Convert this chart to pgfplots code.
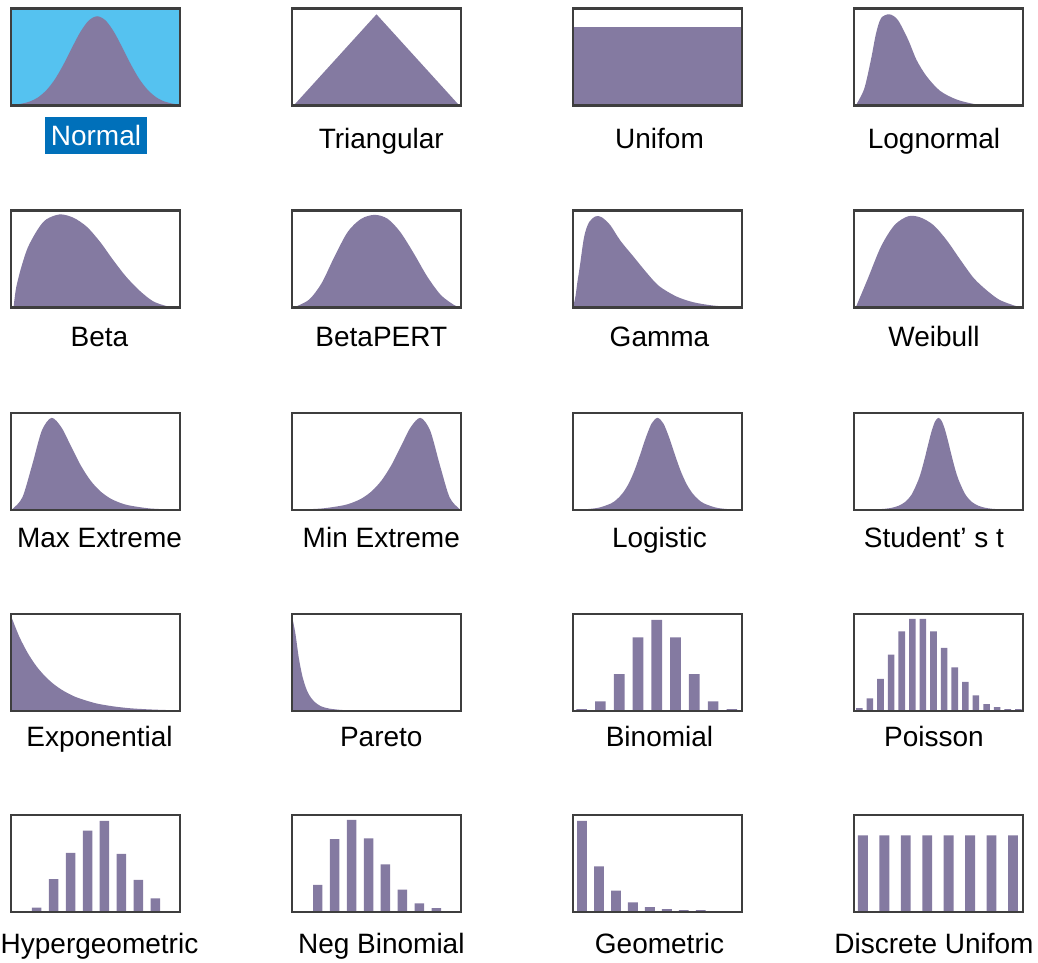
\documentclass[border=0pt]{standalone}
\usepackage{pgfplots}
\pgfplotsset{compat=1.18}
\usepackage{fontspec}
\setmainfont{Liberation Sans}
\definecolor{pur}{RGB}{132,122,161}
\definecolor{framecol}{RGB}{62,62,62}
\definecolor{normbg}{RGB}{85,194,240}
\definecolor{hl}{RGB}{0,112,186}
\pgfplotsset{
  panel/.style={scale only axis, width=169pt, height=97pt,
    xmin=0, xmax=1, ymin=0, ymax=1, ticks=none, axis on top,
    axis line style={draw=framecol, line width=2.4pt}, anchor=south west},
  curve/.style={fill=pur, draw=none, smooth},
  bars/.style={ybar, bar shift=0pt, fill=pur, draw=none},
}
\newcommand{\lab}{\fontsize{28}{33}\selectfont}
\begin{document}
\begin{tikzpicture}
\useasboundingbox (0pt,0pt) rectangle (1038pt,963pt);
% ---------- Row 1
\begin{axis}[panel, at={(11pt,857.5pt)}, axis background/.style={fill=normbg}]
\addplot[curve] coordinates {(0.0,0.005)(0.01,0.007)(0.06,0.018)(0.11,0.040)(0.16,0.084)(0.21,0.159)(0.26,0.271)(0.31,0.421)(0.36,0.593)(0.41,0.757)(0.46,0.876)(0.51,0.92)(0.56,0.876)(0.61,0.757)(0.66,0.593)(0.71,0.421)(0.76,0.271)(0.81,0.159)(0.86,0.084)(0.91,0.040)(0.96,0.018)(1.0,0.008)} \closedcycle;
\end{axis}
\begin{axis}[panel, at={(292pt,857.5pt)}]
\addplot[fill=pur, draw=none] coordinates {(0.01,0)(0.5,0.94)(0.99,0)} \closedcycle;
\end{axis}
\begin{axis}[panel, at={(573pt,857.5pt)}]
\addplot[fill=pur, draw=none] coordinates {(0,0.81)(1,0.81)} \closedcycle;
\end{axis}
\begin{axis}[panel, at={(854pt,857.5pt)}]
\addplot[curve] coordinates {(0.01,0)(0.06,0.17)(0.10,0.47)(0.13,0.74)(0.16,0.90)(0.21,0.94)(0.26,0.88)(0.32,0.68)(0.37,0.47)(0.43,0.30)(0.51,0.15)(0.61,0.06)(0.73,0.01)(0.85,0)} \closedcycle;
\end{axis}
% ---------- Row 2
\begin{axis}[panel, at={(11pt,655.5pt)}]
\addplot[curve] coordinates {(0.015,0)(0.03,0.2)(0.06,0.41)(0.10,0.62)(0.16,0.81)(0.21,0.91)(0.29,0.96)(0.37,0.925)(0.45,0.83)(0.53,0.67)(0.60,0.50)(0.68,0.32)(0.76,0.175)(0.84,0.065)(0.92,0.015)(0.98,0)} \closedcycle;
\end{axis}
\begin{axis}[panel, at={(292pt,655.5pt)}]
\addplot[curve] coordinates {(0.01,0)(0.10,0.08)(0.175,0.25)(0.25,0.52)(0.33,0.78)(0.41,0.915)(0.49,0.955)(0.565,0.915)(0.64,0.78)(0.72,0.56)(0.80,0.32)(0.88,0.13)(0.955,0.03)(0.99,0)} \closedcycle;
\end{axis}
\begin{axis}[panel, at={(573pt,655.5pt)}]
\addplot[curve] coordinates {(0.0,0)(0.015,0.12)(0.025,0.25)(0.04,0.42)(0.066,0.73)(0.095,0.88)(0.135,0.94)(0.17,0.93)(0.22,0.85)(0.28,0.69)(0.36,0.52)(0.44,0.35)(0.51,0.22)(0.61,0.115)(0.71,0.055)(0.83,0.02)(0.99,0)} \closedcycle;
\end{axis}
\begin{axis}[panel, at={(854pt,655.5pt)}]
\addplot[curve] coordinates {(0.01,0)(0.08,0.29)(0.16,0.63)(0.24,0.85)(0.32,0.94)(0.39,0.93)(0.47,0.85)(0.55,0.69)(0.63,0.49)(0.71,0.30)(0.79,0.17)(0.86,0.08)(0.94,0.025)(0.99,0)} \closedcycle;
\end{axis}
% ---------- Row 3
\begin{axis}[panel, at={(11pt,453pt)}]
\addplot[curve] coordinates {(0.0,0.002)(0.01,0.012)(0.0675,0.131)(0.125,0.463)(0.1825,0.819)(0.24,0.95)(0.2975,0.854)(0.355,0.658)(0.4125,0.461)(0.47,0.305)(0.5275,0.195)(0.585,0.122)(0.6425,0.076)(0.70,0.047)(0.815,0.017)(0.93,0.006)(1.0,0.003)} \closedcycle;
\end{axis}
\begin{axis}[panel, at={(292pt,453pt)}]
\addplot[curve] coordinates {(0.0,0.003)(0.07,0.006)(0.185,0.017)(0.30,0.047)(0.3575,0.076)(0.415,0.122)(0.4725,0.195)(0.53,0.305)(0.5875,0.461)(0.645,0.658)(0.7025,0.854)(0.76,0.95)(0.8175,0.819)(0.875,0.463)(0.9325,0.131)(0.99,0.012)(1.0,0.002)} \closedcycle;
\end{axis}
\begin{axis}[panel, at={(573pt,453pt)}]
\addplot[curve] coordinates {(0.0,0.001)(0.017,0.0034)(0.086,0.0094)(0.155,0.025)(0.224,0.067)(0.2585,0.108)(0.293,0.172)(0.3275,0.266)(0.362,0.399)(0.3965,0.567)(0.431,0.747)(0.4655,0.893)(0.5,0.95)(0.5345,0.893)(0.569,0.747)(0.6035,0.567)(0.638,0.399)(0.6725,0.266)(0.707,0.172)(0.7415,0.108)(0.776,0.067)(0.845,0.025)(0.914,0.0094)(0.983,0.0034)(1.0,0.001)} \closedcycle;
\end{axis}
\begin{axis}[panel, at={(854pt,453pt)}]
\addplot[curve] coordinates {(0.0,0.001)(0.105,0.0044)(0.184,0.0128)(0.2235,0.023)(0.263,0.043)(0.3025,0.083)(0.342,0.163)(0.3815,0.312)(0.40125,0.420)(0.421,0.550)(0.44075,0.690)(0.4605,0.821)(0.48025,0.915)(0.5,0.95)(0.51975,0.915)(0.5395,0.821)(0.55925,0.690)(0.579,0.550)(0.59875,0.420)(0.6185,0.312)(0.658,0.163)(0.6975,0.083)(0.737,0.043)(0.7765,0.023)(0.816,0.0128)(0.895,0.0044)(1.0,0.001)} \closedcycle;
\end{axis}
% ---------- Row 4
\begin{axis}[panel, at={(11pt,252pt)}]
\addplot[curve] coordinates {(0,0.98)(0.05,0.763)(0.1,0.595)(0.15,0.463)(0.2,0.361)(0.25,0.281)(0.3,0.219)(0.35,0.171)(0.4,0.133)(0.5,0.080)(0.6,0.049)(0.7,0.029)(0.8,0.018)(0.9,0.011)(1.0,0.007)} \closedcycle;
\end{axis}
\begin{axis}[panel, at={(292pt,252pt)}]
\addplot[curve] coordinates {(0,0.98)(0.02,0.80)(0.04,0.55)(0.06,0.37)(0.08,0.25)(0.10,0.17)(0.13,0.10)(0.17,0.05)(0.22,0.025)(0.30,0.01)(0.40,0.003)(0.5,0.001)(1,0.0)} \closedcycle;
\end{axis}
\begin{axis}[panel, at={(573pt,252pt)}, xmin=-0.46, xmax=8.54]
\addplot[bars, bar width=0.566] coordinates {(0,0.02)(1,0.10)(2,0.38)(3,0.76)(4,0.94)(5,0.76)(6,0.38)(7,0.10)(8,0.02)};
\end{axis}
\begin{axis}[panel, at={(854pt,252pt)}, xmin=-0.5, xmax=15.44]
\addplot[bars, bar width=0.62] coordinates {(0,0.03)(1,0.13)(2,0.33)(3,0.58)(4,0.82)(5,0.95)(6,0.95)(7,0.82)(8,0.65)(9,0.45)(10,0.30)(11,0.16)(12,0.07)(13,0.04)(14,0.02)(15,0.02)};
\end{axis}
% ---------- Row 5
\begin{axis}[panel, at={(11pt,51pt)}, xmin=-1.52, xmax=8.46]
\addplot[bars, bar width=0.56] coordinates {(0,0.045)(1,0.34)(2,0.61)(3,0.84)(4,0.94)(5,0.60)(6,0.33)(7,0.14)};
\end{axis}
\begin{axis}[panel, at={(292pt,51pt)}, xmin=-1.52, xmax=8.46]
\addplot[bars, bar width=0.56] coordinates {(0,0.28)(1,0.75)(2,0.95)(3,0.76)(4,0.49)(5,0.23)(6,0.09)(7,0.04)};
\end{axis}
\begin{axis}[panel, at={(573pt,51pt)}, xmin=-0.53, xmax=9.43]
\addplot[bars, bar width=0.58] coordinates {(0,0.94)(1,0.47)(2,0.22)(3,0.10)(4,0.05)(5,0.03)(6,0.02)(7,0.02)};
\end{axis}
\begin{axis}[panel, at={(854pt,51pt)}, xmin=-0.416, xmax=7.47]
\addplot[bars, bar width=0.46] coordinates {(0,0.79)(1,0.79)(2,0.79)(3,0.79)(4,0.79)(5,0.79)(6,0.79)(7,0.79)};
\end{axis}
% ---------- Labels
\begin{scope}[x=1pt,y=1pt]
\node[anchor=base, font=\lab, fill=hl, text=white, inner xsep=5.9pt, inner ysep=0pt, text height=28.4pt, text depth=8.6pt] at (96,817.3) {Normal};
\node[anchor=base, font=\lab] at (381.3,814.7) {Triangular};
\node[anchor=base, font=\lab] at (659.5,814.7) {Unifom};
\node[anchor=base, font=\lab] at (934,814.7) {Lognormal};
\node[anchor=base, font=\lab] at (99.5,616.3) {Beta};
\node[anchor=base, font=\lab] at (381.3,616.3) {BetaPERT};
\node[anchor=base, font=\lab] at (659.5,616.3) {Gamma};
\node[anchor=base, font=\lab] at (934,616.3) {Weibull};
\node[anchor=base, font=\lab] at (99.5,415.3) {Max Extreme};
\node[anchor=base, font=\lab] at (381.3,415.3) {Min Extreme};
\node[anchor=base, font=\lab] at (659.5,415.3) {Logistic};
\node[anchor=base, font=\lab] at (934,415.3) {Student’ s t};
\node[anchor=base, font=\lab] at (99.5,216.3) {Exponential};
\node[anchor=base, font=\lab] at (381.3,216.3) {Pareto};
\node[anchor=base, font=\lab] at (659.5,216.3) {Binomial};
\node[anchor=base, font=\lab] at (934,216.3) {Poisson};
\node[anchor=base, font=\lab] at (99.5,9.7) {Hypergeometric};
\node[anchor=base, font=\lab] at (381.3,9.7) {Neg Binomial};
\node[anchor=base, font=\lab] at (659.5,9.7) {Geometric};
\node[anchor=base, font=\lab] at (934,9.7) {Discrete Unifom};
\end{scope}
\end{tikzpicture}
\end{document}
